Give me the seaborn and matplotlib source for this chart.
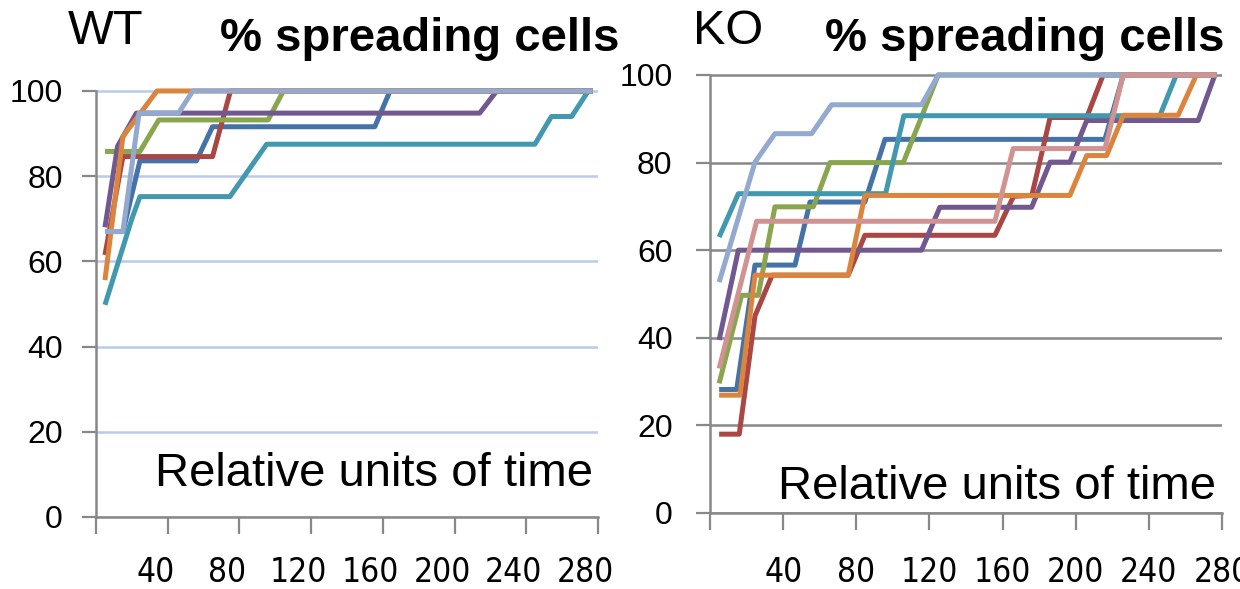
import matplotlib
matplotlib.use("Agg")
import matplotlib.pyplot as plt
import seaborn as sns
import pandas as pd
from matplotlib import font_manager

# ---------------- data ----------------
x_ticks = [0, 40, 80, 120, 160, 200, 240, 280]
x_tick_labels = ["40", "80", "120", "160", "200", "240", "280"]
y_ticks = [0, 20, 40, 60, 80, 100]
y_tick_labels = ["0", "20", "40", "60", "80", "100"]

cells = ["c1", "c2", "c3", "c4", "c5", "c6", "c7", "c8"]

# WT panel: breakpoints (time, % spreading cells)
wt_c1_t = [5, 15, 24.5, 56, 65, 155.5, 164, 277]
wt_c1_y = [67, 67, 83.6, 83.6, 91.6, 91.6, 100, 100]
wt_c2_t = [5, 15, 65, 75, 277]
wt_c2_y = [61.5, 84.6, 84.6, 100, 100]
wt_c3_t = [5, 24.5, 35, 96, 104.5, 277]
wt_c3_y = [85.8, 85.8, 93.2, 93.2, 100, 100]
wt_c4_t = [5, 12, 22.5, 214, 223.5, 277]
wt_c4_y = [68, 87, 94.8, 94.8, 100, 100]
wt_c5_t = [5, 20, 24.5, 74.7, 95.2, 244.8, 254, 265.3, 274.6, 277]
wt_c5_y = [49.8, 70, 75.2, 75.2, 87.5, 87.5, 94, 94, 100, 100]
wt_c6_t = [5, 15, 34, 277]
wt_c6_y = [55.6, 89.3, 100, 100]
wt_c7_t = [5, 15, 24, 46, 54, 277]
wt_c7_y = [67, 67, 94.8, 94.8, 100, 100]

# KO panel
ko_c1_t = [5, 14.6, 24.6, 46.5, 54.7, 84.7, 95.7, 216, 226, 277]
ko_c1_y = [28.2, 28.2, 56.6, 56.6, 71, 71, 85.3, 85.3, 100, 100]
ko_c2_t = [5, 16, 24.6, 34, 75.6, 84.7, 155.8, 166, 176, 186, 206, 215, 277]
ko_c2_y = [18, 18, 45, 54.3, 54.3, 63.4, 63.4, 72.3, 72.5, 90.3, 90.3, 100, 100]
ko_c3_t = [5, 17.3, 26.4, 35.5, 56.5, 65.6, 105.7, 124.8, 277]
ko_c3_y = [29.6, 49.7, 49.7, 69.9, 69.9, 80, 80, 100, 100]
ko_c4_t = [5, 15.5, 115.7, 125.7, 175.9, 186, 196.8, 206, 267, 276.1, 277]
ko_c4_y = [39.5, 60, 60, 69.8, 69.8, 80.1, 80.1, 89.6, 89.6, 100, 100]
ko_c5_t = [5, 15.5, 96, 106, 246, 255, 277]
ko_c5_y = [63, 72.9, 72.9, 90.7, 90.7, 100, 100]
ko_c6_t = [5, 16.4, 24.6, 75.6, 84.7, 196.8, 206, 216.9, 226, 256, 266, 277]
ko_c6_y = [26.9, 26.9, 54.3, 54.3, 72.5, 72.5, 81.6, 81.6, 90.8, 90.8, 100, 100]
ko_c7_t = [5, 24.6, 35.5, 55.6, 66.5, 115.7, 124.8, 277]
ko_c7_y = [52.7, 80.1, 86.6, 86.6, 93.2, 93.2, 100, 100]
ko_c8_t = [5, 25.5, 155.8, 165.8, 216, 226, 277]
ko_c8_y = [33, 66.6, 66.6, 83.2, 83.2, 100, 100]

colors = ["#4572A7", "#AA4643", "#89A54E", "#71588F",
          "#4198AF", "#DB843D", "#93A9CF", "#D19392"]


def build(pairs, names):
    rows = []
    for name, (ts, ys) in zip(names, pairs):
        for t, y in zip(ts, ys):
            rows.append({"cell": name, "t": t, "pct": y})
    return pd.DataFrame(rows)


wt_df = build([(wt_c1_t, wt_c1_y), (wt_c2_t, wt_c2_y), (wt_c3_t, wt_c3_y),
               (wt_c4_t, wt_c4_y), (wt_c5_t, wt_c5_y), (wt_c6_t, wt_c6_y),
               (wt_c7_t, wt_c7_y)], cells[:7])
ko_df = build([(ko_c1_t, ko_c1_y), (ko_c2_t, ko_c2_y), (ko_c3_t, ko_c3_y),
               (ko_c4_t, ko_c4_y), (ko_c5_t, ko_c5_y), (ko_c6_t, ko_c6_y),
               (ko_c7_t, ko_c7_y), (ko_c8_t, ko_c8_y)], cells)

# ---------------- style ----------------
sns.set_style("white")
plt.rcParams["font.family"] = ["Liberation Sans", "DejaVu Sans"]
plt.rcParams["text.color"] = "black"
plt.rcParams["xtick.labelcolor"] = "black"
plt.rcParams["ytick.labelcolor"] = "black"
names = {f.name for f in font_manager.fontManager.ttflist}
if "Liberation Sans Narrow" in names:
    xfont = dict(family="Liberation Sans Narrow")
else:
    xfont = dict(family="DejaVu Sans", stretch="condensed")

W, H = 1240, 589
fig = plt.figure(figsize=(W / 100, H / 100), dpi=100)

GRAY = "#888888"
LINE_W = 3.6


def setup_panel(ax, df, ncells, grid_color, xlab_shift, ytick_pad, xtick_pad):
    pal = dict(zip(cells[:ncells], colors[:ncells]))
    ax.set_axisbelow(True)
    ax.yaxis.grid(True, color=grid_color, lw=1.8)
    ax.xaxis.grid(False)
    sns.lineplot(data=df, x="t", y="pct", hue="cell", hue_order=cells[:ncells],
                 palette=pal, sort=False, estimator=None, legend=False,
                 linewidth=LINE_W, ax=ax)
    for ln in ax.get_lines():
        ln.set_clip_on(False)
        ln.set_linewidth(LINE_W)
        ln.set_solid_joinstyle("round")
        ln.set_solid_capstyle("butt")
    ax.set_xlim(0, 280)
    ax.set_ylim(0, 101)
    ax.set_xlabel("")
    ax.set_ylabel("")
    for s in ["top", "right"]:
        ax.spines[s].set_visible(False)
    for s in ["left", "bottom"]:
        ax.spines[s].set_color(GRAY)
        ax.spines[s].set_linewidth(1.8)
    ax.spines["left"].set_bounds(0, 100)
    ax.set_yticks(y_ticks)
    ax.set_yticklabels(y_tick_labels, fontsize=23, color="black")
    ax.tick_params(axis="y", length=10, width=1.6, color=GRAY, pad=ytick_pad,
                   direction="out", left=True)
    ax.xaxis.remove_overlapping_locs = False
    ax.set_xticks(x_ticks)
    ax.set_xticklabels([""] * len(x_ticks))
    ax.tick_params(axis="x", which="major", length=12, width=1.6, color=GRAY,
                   direction="out", bottom=True)
    ax.set_xticks([v + xlab_shift for v in x_ticks[1:]], minor=True)
    ax.set_xticklabels(x_tick_labels, minor=True, fontsize=24, color="black",
                       **xfont)
    ax.tick_params(axis="x", which="minor", length=0, pad=xtick_pad)


# Left (WT) panel
ax1 = fig.add_axes([96 / W, 1 - 517 / H, 502 / W, (517 - 86.7) / H])
setup_panel(ax1, wt_df, 7, "#B9CBE8", -7, 14, 28)

# Right (KO) panel
ax2 = fig.add_axes([710 / W, 1 - 513 / H, 512 / W, (513 - 70.6) / H])
setup_panel(ax2, ko_df, 8, GRAY, 0, 17, 31)

# Texts
fig.text(68 / W, 1 - 44 / H, "WT", fontsize=35, ha="left", va="baseline")
fig.text(220 / W, 1 - 51 / H, "% spreading cells", fontsize=34,
         fontweight="bold", ha="left", va="baseline")
fig.text(693 / W, 1 - 44 / H, "KO", fontsize=35, ha="left", va="baseline")
fig.text(825 / W, 1 - 51 / H, "% spreading cells", fontsize=34,
         fontweight="bold", ha="left", va="baseline")
fig.text(155 / W, 1 - 486 / H, "Relative units of time", fontsize=34,
         ha="left", va="baseline")
fig.text(778 / W, 1 - 499 / H, "Relative units of time", fontsize=34,
         ha="left", va="baseline")

fig.savefig("out.png", dpi=100)
